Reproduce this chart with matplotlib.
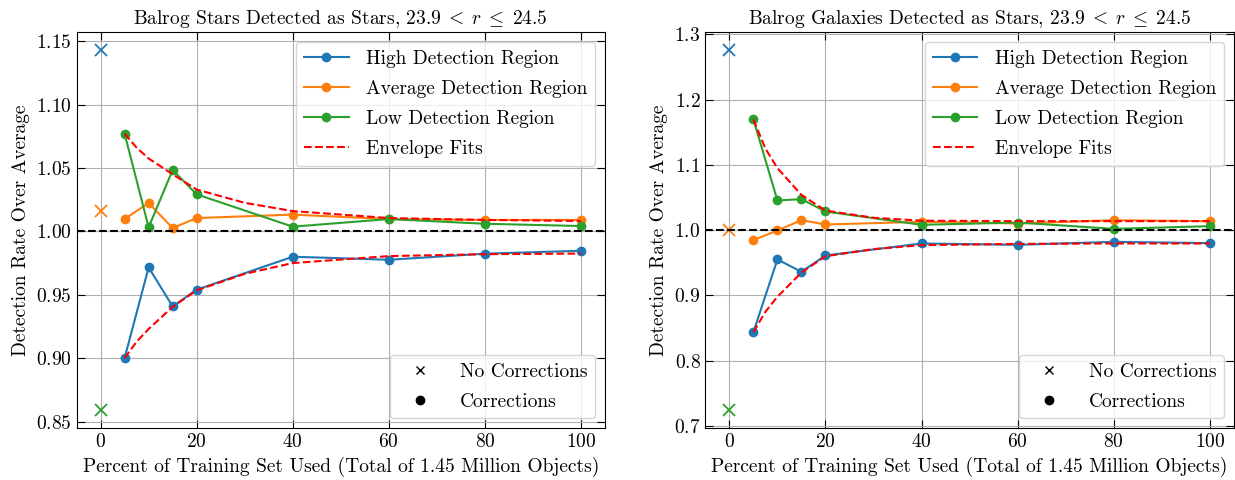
import matplotlib
matplotlib.use('Agg')
import matplotlib.pyplot as plt
from matplotlib.lines import Line2D

plt.rcParams['font.family'] = 'serif'
plt.rcParams['font.serif'] = ['cmr10']
plt.rcParams['mathtext.fontset'] = 'cm'
plt.rcParams['axes.formatter.use_mathtext'] = True

# percent of training set used
pct = [5, 10, 15, 20, 40, 60, 80, 100]
env_x = [5, 7.5, 10, 15, 20, 30, 40, 60, 80, 100]

# --- Balrog stars detected as stars ---
stars_nocorr = [1.1429, 1.0163, 0.8590]   # high, average, low at 0 %
stars_high = [0.9000, 0.9716, 0.9408, 0.9540, 0.9800, 0.9776, 0.9824, 0.9847]
stars_avg = [1.0097, 1.0224, 1.0026, 1.0105, 1.0132, 1.0097, 1.0090, 1.0090]
stars_low = [1.0771, 1.0032, 1.0484, 1.0292, 1.0037, 1.0097, 1.0060, 1.0042]
stars_env_up = [1.0771, 1.0660, 1.0575, 1.0450, 1.0330, 1.0225, 1.0160, 1.0105, 1.0090, 1.0082]
stars_env_lo = [0.9000, 0.9130, 0.9230, 0.9405, 0.9535, 0.9665, 0.9750, 0.9805, 0.9820, 0.9825]

# --- Balrog galaxies detected as stars ---
gals_nocorr = [1.2758, 0.9995, 0.7242]
gals_high = [0.8437, 0.9551, 0.9362, 0.9612, 0.9796, 0.9775, 0.9821, 0.9801]
gals_avg = [0.9847, 0.9995, 1.0153, 1.0087, 1.0128, 1.0102, 1.0153, 1.0138]
gals_low = [1.1696, 1.0455, 1.0475, 1.0286, 1.0082, 1.0117, 1.0020, 1.0061]
gals_env_up = [1.1696, 1.1250, 1.0950, 1.0540, 1.0300, 1.0190, 1.0145, 1.0138, 1.0138, 1.0138]
gals_env_lo = [0.8437, 0.8750, 0.8980, 0.9350, 0.9600, 0.9710, 0.9770, 0.9790, 0.9796, 0.9796]

titles = [r'Balrog Stars Detected as Stars, $23.9\;<\;r\;\leq\;24.5$',
          r'Balrog Galaxies Detected as Stars, $23.9\;<\;r\;\leq\;24.5$']
region_labels = ['High Detection Region', 'Average Detection Region', 'Low Detection Region']
colors = ['#1f77b4', '#ff7f0e', '#2ca02c']

panels = [
    (stars_nocorr, [stars_high, stars_avg, stars_low], stars_env_up, stars_env_lo),
    (gals_nocorr, [gals_high, gals_avg, gals_low], gals_env_up, gals_env_lo),
]

fig, axes = plt.subplots(1, 2, figsize=(12.35, 4.8), dpi=100)
plt.subplots_adjust(left=0.062, right=0.999, top=0.933, bottom=0.108, wspace=0.19)

for ax, title, (nocorr, series, env_up, env_lo) in zip(axes, titles, panels):
    ax.grid(True, color='#b0b0b0', linewidth=0.8)
    ax.set_axisbelow(True)
    for val, c in zip(nocorr, colors):
        ax.plot(0, val, 'x', color=c, markersize=9, markeredgewidth=1.3)
    for vals, c, lab in zip(series, colors, region_labels):
        ax.plot(pct, vals, '-o', color=c, label=lab, markersize=6, linewidth=1.5)
    ax.plot(env_x, env_up, '--', color='red', linewidth=1.5, label='Envelope Fits')
    ax.plot(env_x, env_lo, '--', color='red', linewidth=1.5)
    ax.axhline(1.0, color='black', linestyle='--', linewidth=1.5)

    ax.set_title(title, fontsize=14)
    ax.set_xlabel('Percent of Training Set Used (Total of 1.45 Million Objects)', fontsize=14)
    ax.set_ylabel('Detection Rate Over Average', fontsize=14)
    ax.tick_params(direction='in', top=True, right=True, labelsize=14, length=5.5)

    leg1 = ax.legend(loc='upper right', fontsize=14, handlelength=2.3,
                     labelspacing=0.62, handletextpad=0.9)
    ax.add_artist(leg1)
    handles = [Line2D([], [], marker='x', color='black', linestyle='none', markersize=5.5),
               Line2D([], [], marker='o', color='black', linestyle='none', markersize=6)]
    ax.legend(handles, ['No Corrections', 'Corrections'], loc='lower right', fontsize=14,
              handlelength=2.3, labelspacing=0.62, handletextpad=0.9)

axes[0].set_yticks([0.85, 0.90, 0.95, 1.00, 1.05, 1.10, 1.15])
axes[1].set_yticks([0.7, 0.8, 0.9, 1.0, 1.1, 1.2, 1.3])

plt.savefig('out.png', dpi=100)
